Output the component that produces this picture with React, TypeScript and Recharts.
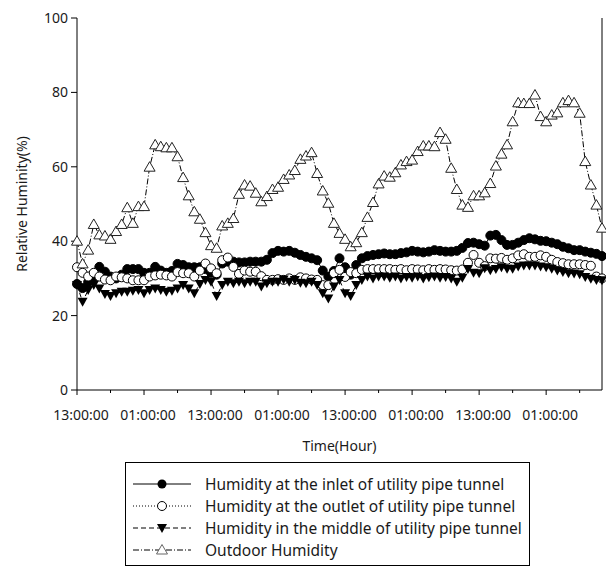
import React from "react";
import { LineChart, Line, XAxis, YAxis, Legend, ReferenceLine, Label } from "recharts";

// hourly readings, starting 13:00:00 on day 1
const inlet = [
  28.5, 27.4, 29, 30, 33.1, 31.8, 30.5, 30, 31, 32.5, 32.5, 32.5, 31.5, 31.5, 33.1, 32.1,
  31.5, 32, 33.9, 33.6, 33, 33, 33, 32.5, 31.5, 31, 34, 34.5, 34.5, 34.3, 34.3, 34.5,
  34.5, 34.5, 35, 36.8, 37.4, 37.2, 37.4, 36.9, 36.3, 35.8, 35.4, 34.9, 32.1, 30.5, 32,
  35.4, 33, 31, 33.6, 35.4, 36, 36.3, 36.5, 36.7, 36.5, 36.5, 36.8, 37, 37.4, 37.2, 37,
  37.2, 37.6, 37.4, 37.2, 37.2, 37.4, 38.2, 39.5, 39.6, 39.2, 38.8, 41.5, 41.7, 40.3, 39,
  39, 39.6, 40.3, 40.8, 40.5, 40.1, 40, 39.6, 39.2, 38.5, 38.1, 37.6, 37.6, 37.2, 36.9,
  36.6, 36,
];

const outlet = [
  33, 31.5, 30.5, 31.5, 30.5, 29.7, 29.5, 30.5, 30.3, 30, 29.5, 29.5, 29.5, 30.5, 30.8, 31,
  30.8, 30.5, 31.7, 31.4, 31.4, 30.5, 32.1, 34, 32.7, 31.4, 34.9, 35.6, 33.1, 31.2, 32.1,
  31.8, 31.8, 30.6, 29.6, 29.6, 29.8, 29.6, 30, 29.6, 30.3, 30, 29.7, 29.6, 28.2, 28.2,
  31.4, 32.3, 30.4, 31.7, 31.4, 32.3, 32.5, 32.5, 32.5, 32.5, 32.5, 32.3, 32.5, 32.2, 32.5,
  32.4, 32.2, 32.5, 32.3, 32.5, 32.4, 32.2, 32.1, 32.4, 34.2, 36.3, 34.2, 33.3, 35.4, 35.3,
  35.5, 35, 35.4, 36.2, 36.5, 35.8, 35.8, 36.2, 35.8, 35, 34.4, 34.1, 33.8, 33.8, 33.8,
  33.6, 33.4, 30.5, 30,
];

const middle = [
  28.2, 23.7, 26.9, 28.2, 27.3, 25.8, 25.3, 26, 26.4, 26.4, 26.7, 26.9, 26, 26.9, 27.3,
  26.9, 26.4, 26.7, 27.3, 28.2, 27.3, 26, 28.5, 29.6, 29.1, 25.3, 28.2, 29.1, 28.7, 29.1,
  28.7, 29.1, 29.1, 27.8, 28.7, 29.1, 29.1, 29.7, 29.1, 29.6, 28.8, 28.7, 29.1, 28.2, 26,
  24.6, 27.8, 29.6, 26, 25.3, 28.2, 29.6, 30.5, 30, 30.5, 30.5, 30.2, 30.5, 30, 30.4, 30.2,
  30.5, 30, 30.3, 30.5, 30.2, 30.4, 30, 29.1, 30.2, 32.5, 31.5, 31.4, 32.7, 32.2, 32.5, 33,
  32.6, 32.6, 33.2, 33.5, 33.5, 33.5, 33.2, 33, 32.6, 32.1, 31.7, 31.4, 31.3, 31.1, 30.4,
  29.9, 29.6, 29.5,
];

const outdoor = [
  40, 33.9, 37.6, 44.5, 41.7, 41.4, 40.5, 42.6, 44.5, 49, 44.8, 49.3, 49.3, 59.9, 65.9,
  65.4, 65.1, 65.1, 62.7, 57.1, 52.2, 47.9, 45.9, 42.3, 38.8, 38.1, 44.1, 44.8, 46.1, 52.6,
  55.1, 54.8, 52.9, 50.6, 52, 53.9, 54.5, 56.6, 57.8, 59, 62, 62.9, 63.8, 58.2, 53.5, 50.2,
  44.8, 42.1, 40.5, 38.5, 39.6, 42.3, 46.4, 50.4, 55.4, 57.5, 57.2, 58.4, 60.5, 61.4, 61.8,
  64.1, 65.6, 65.6, 65.4, 69.2, 67.4, 59.6, 53.9, 49.7, 49.1, 52.2, 52.2, 53, 55.5, 60.2,
  63.4, 65.9, 72.1, 77.2, 77, 77, 79.3, 73.5, 72.1, 73.9, 74.5, 77.2, 77.8, 77.2, 74.4,
  61.4, 55.1, 49.7, 43.5,
];

const seriesNames = [
  "Humidity at the inlet of utility pipe tunnel",
  "Humidity at the outlet of utility pipe tunnel",
  "Humidity in the middle of utility pipe tunnel",
  "Outdoor Humidity",
];

const xTicks = [0, 6, 12, 18, 24, 30, 36, 42, 48, 54, 60, 66, 72, 78, 84, 90];
const yTicks = [0, 20, 40, 60, 80, 100];

const data = inlet.map((v, i) => ({
  hour: i,
  inlet: v,
  outlet: outlet[i],
  middle: middle[i],
  outdoor: outdoor[i],
}));

const FONT = "'Noto Sans', sans-serif";
const TEXT = "#1a1a1a";

const FilledDot = (p: any) => (
  <circle key={`fd-${p.index}`} cx={p.cx} cy={p.cy} r={4.5} fill="#000" stroke="#000" />
);
const OpenDot = (p: any) => (
  <circle key={`od-${p.index}`} cx={p.cx} cy={p.cy} r={4.5} fill="#fff" stroke="#000" strokeWidth={1} />
);
const DownTri = (p: any) => (
  <path
    key={`dt-${p.index}`}
    d={`M${p.cx - 5},${p.cy - 4}L${p.cx + 5},${p.cy - 4}L${p.cx},${p.cy + 5}Z`}
    fill="#000"
  />
);
const UpTri = (p: any) => (
  <path
    key={`ut-${p.index}`}
    d={`M${p.cx},${p.cy - 5.5}L${p.cx + 5.5},${p.cy + 4}L${p.cx - 5.5},${p.cy + 4}Z`}
    fill="#fff"
    stroke="#222"
    strokeWidth={1}
  />
);

const XTick = (props: any) => {
  const { x, y, payload } = props;
  const h = payload.value;
  const major = h % 12 === 0;
  return (
    <g>
      <line x1={x} x2={x} y1={y} y2={y + (major ? 5 : 3)} stroke="#000" />
      {major && (
        <text x={x + 4} y={y + 30} textAnchor="middle" fontSize={14} fontFamily={FONT} fill={TEXT}>
          {h % 24 === 0 ? "13:00:00" : "01:00:00"}
        </text>
      )}
    </g>
  );
};

const legendStyles = [
  { dash: undefined, dot: "filled" },
  { dash: "1 2", dot: "open" },
  { dash: "5 3", dot: "down" },
  { dash: "6 2 1 2", dot: "up" },
];

const LegendBox = () => (
  <div style={{ width: 405, height: 104, boxSizing: "border-box", border: "1px solid #000", background: "#fff" }}>
    <svg width={403} height={102}>
      {seriesNames.map((name, i) => {
        const cy = 21 + i * 22;
        const s = legendStyles[i];
        const cx = 36;
        return (
          <g key={name}>
            <line x1={7} x2={65} y1={cy} y2={cy} stroke="#000" strokeDasharray={s.dash} />
            {s.dot === "filled" && <circle cx={cx} cy={cy} r={4.5} fill="#000" />}
            {s.dot === "open" && <circle cx={cx} cy={cy} r={4.5} fill="#fff" stroke="#000" />}
            {s.dot === "down" && (
              <path d={`M${cx - 5},${cy - 4}L${cx + 5},${cy - 4}L${cx},${cy + 5}Z`} fill="#000" />
            )}
            {s.dot === "up" && (
              <path d={`M${cx},${cy - 5.5}L${cx + 5.5},${cy + 4}L${cx - 5.5},${cy + 4}Z`} fill="#fff" stroke="#666" />
            )}
            <text x={79} y={cy + 5.5} fontSize={15.5} fontFamily={FONT} fill={TEXT}>
              {name}
            </text>
          </g>
        );
      })}
    </svg>
  </div>
);

export default function App() {
  return (
    <LineChart width={606} height={560} data={data} margin={{ top: 10, right: 12, left: 0, bottom: 2 }}>
      <XAxis
        dataKey="hour"
        type="number"
        domain={[0, 94]}
        ticks={xTicks}
        interval={0}
        tickLine={false}
        tickSize={0}
        tickMargin={0}
        tick={<XTick />}
        stroke="#000"
        height={72}
      >
        <Label value="Time(Hour)" position="insideBottom" offset={11} fontSize={14} fontFamily={FONT} fill={TEXT} />
      </XAxis>
      <YAxis
        domain={[0, 100]}
        ticks={yTicks}
        interval={0}
        width={69}
        stroke="#000"
        tickSize={6}
        tickMargin={3}
        tick={{ fontSize: 14, fontFamily: FONT, fill: TEXT }}
      >
        <Label
          value="Relative Huminity(%)"
          angle={-90}
          position="insideLeft"
          offset={14}
          fontSize={14}
          fontFamily={FONT}
          fill={TEXT}
          style={{ textAnchor: "middle" }}
        />
      </YAxis>
      <ReferenceLine x={94} stroke="#000" />
      <Legend verticalAlign="bottom" wrapperStyle={{ left: 117, bottom: 2, width: 405 }} content={() => <LegendBox />} />
      <Line dataKey="inlet" name={seriesNames[0]} stroke="#000" strokeWidth={1} dot={FilledDot} isAnimationActive={false} />
      <Line dataKey="outlet" name={seriesNames[1]} stroke="#000" strokeWidth={1} strokeDasharray="1 2" dot={OpenDot} isAnimationActive={false} />
      <Line dataKey="middle" name={seriesNames[2]} stroke="#000" strokeWidth={1} strokeDasharray="5 3" dot={DownTri} isAnimationActive={false} />
      <Line dataKey="outdoor" name={seriesNames[3]} stroke="#000" strokeWidth={1} strokeDasharray="6 2 1 2" dot={UpTri} isAnimationActive={false} />
    </LineChart>
  );
}
